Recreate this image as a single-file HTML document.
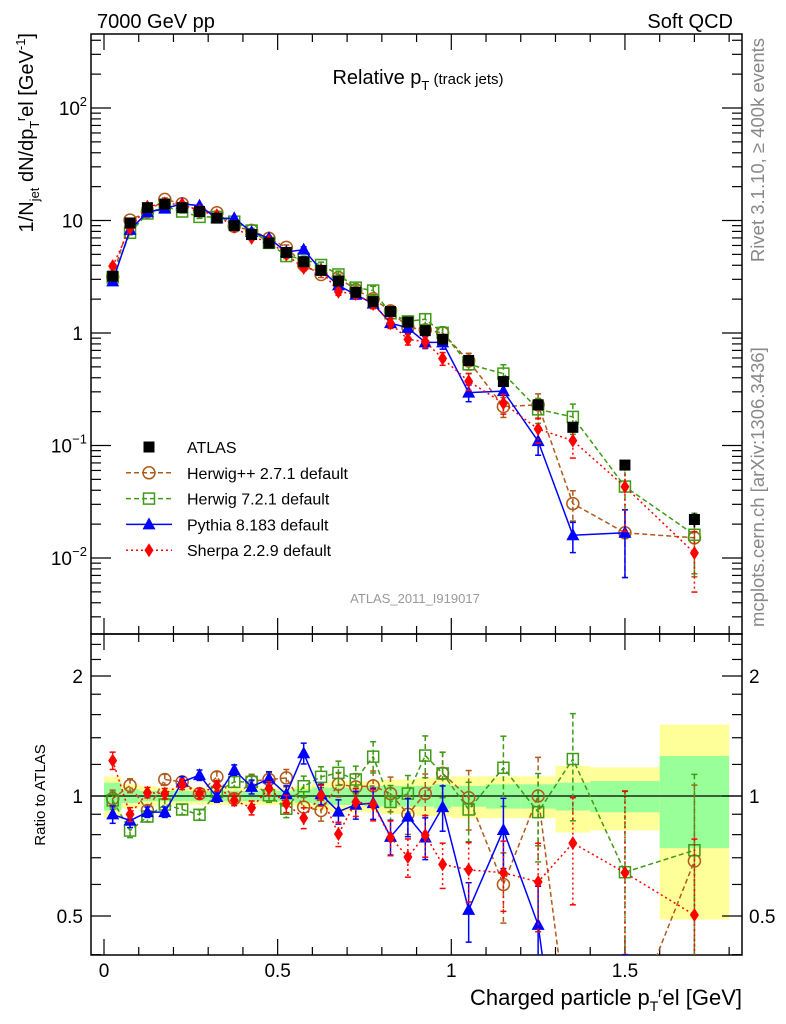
<!DOCTYPE html>
<html><head><meta charset="utf-8"><style>
html,body{margin:0;padding:0;background:#fff;overflow:hidden;width:786px;height:1024px;}
svg{display:block;font-family:"Liberation Sans",sans-serif;}
</style></head><body>
<svg id="chart" width="786" height="1024" viewBox="0 0 786 1024" xmlns="http://www.w3.org/2000/svg">
<g id="bands"></g>
<g id="axes"></g>
<g id="series"></g>
<text x="97" y="28" font-size="20">7000 GeV pp</text>
<text x="733" y="28" font-size="20" text-anchor="end">Soft QCD</text>
<text x="418" y="84" font-size="20" text-anchor="middle">Relative p<tspan font-size="13" dy="6">T</tspan><tspan font-size="15" dy="-6"> (track jets)</tspan></text>
<text x="415" y="603" font-size="13" fill="#999" text-anchor="middle">ATLAS_2011_I919017</text>
<text transform="translate(764,38) rotate(-90)" font-size="18.5" fill="#888" text-anchor="end">Rivet 3.1.10, ≥ 400k events</text>
<text transform="translate(764,627) rotate(-90)" font-size="18.5" fill="#888">mcplots.cern.ch [arXiv:1306.3436]</text>
<text transform="translate(33,33) rotate(-90)" font-size="20" text-anchor="end">1/N<tspan font-size="13" dy="6">jet</tspan><tspan dy="-6"> dN/dp</tspan><tspan font-size="13" dy="6">T</tspan><tspan font-size="13" dy="-14">r</tspan><tspan dy="8">el [GeV</tspan><tspan font-size="13" dy="-8">-1</tspan><tspan dy="8">]</tspan></text>
<text transform="translate(45,795) rotate(-90)" font-size="15" text-anchor="middle">Ratio to ATLAS</text>
<text x="742" y="1005" font-size="22" text-anchor="end">Charged particle p<tspan font-size="14" dy="6">T</tspan><tspan font-size="14" dy="-14">r</tspan><tspan dy="8">el [GeV]</tspan></text>
<g id="legend"></g>
</svg>
<script>
const xVals=[0.025,0.075,0.125,0.175,0.225,0.275,0.325,0.375,0.425,0.475,0.525,0.575,0.625,0.675,0.725,0.775,0.825,0.875,0.925,0.975,1.05,1.15,1.25,1.35,1.5,1.7];
const binEdges=[0,0.05,0.1,0.15,0.2,0.25,0.3,0.35,0.4,0.45,0.5,0.55,0.6,0.65,0.7,0.75,0.8,0.85,0.9,0.95,1.0,1.1,1.2,1.3,1.4,1.6,1.8];
const atlasVals=[3.2,9.5,13,14,13,12,10.5,9,7.5,6.3,5.2,4.3,3.6,2.9,2.3,1.9,1.55,1.25,1.05,0.88,0.57,0.37,0.23,0.145,0.067,0.022];
const atlasTotErr=[0.12,0.07,0.06,0.05,0.05,0.05,0.05,0.05,0.05,0.05,0.05,0.06,0.08,0.09,0.09,0.09,0.10,0.10,0.11,0.11,0.12,0.12,0.12,0.19,0.18,0.51];
const atlasStatErr=[0.08,0.04,0.03,0.03,0.03,0.03,0.03,0.03,0.03,0.03,0.03,0.04,0.05,0.05,0.05,0.06,0.06,0.06,0.06,0.07,0.06,0.07,0.07,0.08,0.09,0.26];
const atlasBarErr=[0.05,0.04,0.03,0.03,0.03,0.03,0.03,0.03,0.03,0.03,0.03,0.04,0.05,0.05,0.05,0.06,0.06,0.06,0.06,0.07,0.06,0.07,0.07,0.08,0.06,0.15];
const herwigppRatio=[0.985,1.062,0.92,1.10,1.085,1.014,1.117,0.985,1.09,1.10,1.11,0.938,0.92,1.07,1.054,1.06,1.014,0.90,1.014,1.14,0.99,0.60,1.0,0.21,0.25,0.687];
const herwig7Ratio=[0.975,0.819,0.888,0.952,0.925,0.897,1.024,1.085,1.085,1.004,0.929,1.058,1.117,1.143,1.10,1.255,0.966,1.014,1.263,1.139,0.925,1.177,0.911,1.238,0.644,0.731];
const pythiaRatio=[0.899,0.868,0.911,0.911,1.085,1.128,0.994,1.162,1.054,1.106,1.01,1.28,1.01,0.914,0.951,0.96,0.79,0.888,0.787,0.938,0.518,0.822,0.475,0.11,0.25,null];
const sherpaRatio=[1.227,0.899,1.02,1.014,1.07,1.014,1.06,0.975,0.934,1.044,0.956,0.881,1.004,0.803,0.966,0.952,0.787,0.703,0.798,0.674,0.653,0.642,0.609,0.762,0.642,0.503];
const mcErr=[0.05,0.04,0.03,0.03,0.03,0.03,0.03,0.03,0.04,0.04,0.05,0.06,0.06,0.07,0.08,0.09,0.10,0.11,0.12,0.13,0.17,0.20,0.25,0.3,0.6,0.55];
const xTickLabels=["0","0.5","1","1.5"];
const xTickVals=[0,0.5,1,1.5];

const NS="http://www.w3.org/2000/svg";
const L=91,R=742,T=34,M=634,B=955;
const X=v=>104+347.3*v;
const YT=v=>333-112.5*Math.log10(v);
const YR=v=>796-398.7*Math.log10(v);
function mk(parent,tag,attrs){const e=document.createElementNS(NS,tag);for(const k in attrs)e.setAttribute(k,attrs[k]);parent.appendChild(e);return e;}
const axes=document.getElementById('axes'),bands=document.getElementById('bands'),ser=document.getElementById('series'),leg=document.getElementById('legend');

const defs=mk(document.getElementById('chart'),'defs',{});
const c1=mk(defs,'clipPath',{id:'ctop'});mk(c1,'rect',{x:L,y:T,width:R-L,height:M-T});
const c2=mk(defs,'clipPath',{id:'cbot'});mk(c2,'rect',{x:L,y:M,width:R-L,height:B-M});

for(let i=0;i<xVals.length;i++){
  const x1=X(binEdges[i]),x2=X(binEdges[i+1]);
  const yb=mk(bands,'rect',{x:x1,y:YR(1+atlasTotErr[i]),width:x2-x1,height:YR(1-atlasTotErr[i])-YR(1+atlasTotErr[i]),fill:'#ffff99'});
  
  
  const gb=mk(bands,'rect',{x:x1,y:YR(1+atlasStatErr[i]),width:x2-x1,height:YR(1-atlasStatErr[i])-YR(1+atlasStatErr[i]),fill:'#99ff99'});
  
  
}
const one=mk(axes,'line',{x1:L,x2:R,y1:YR(1),y2:YR(1),stroke:'#000','stroke-width':1.3});



for(const [y1,y2] of [[T,M],[M,B]]){
  const f=mk(axes,'rect',{x:L,y:y1,width:R-L,height:y2-y1,fill:'none',stroke:'#000','stroke-width':1.5});
  
  
}
for(let k=0;k<=18;k++){
  const v=k/10,x=X(v),maj=(k%5===0),len=maj?16:8;
  for(const [y,d] of [[T,1],[M,-1],[M,1],[B,-1]]){
    mk(axes,'line',{x1:x,x2:x,y1:y,y2:y+d*len,stroke:'#000','stroke-width':1.2});
  }
}
xTickVals.forEach((v,i)=>{const t=mk(axes,'text',{x:X(v),y:977,'font-size':19,'text-anchor':'middle'});t.textContent=xTickLabels[i];

});
for(let e=-3;e<=2;e++){for(let m=1;m<10;m++){const v=m*Math.pow(10,e),y=YT(v);if(y<T||y>M)continue;const len=m===1?20:10;
 mk(axes,'line',{x1:L,x2:L+len,y1:y,y2:y,stroke:'#000','stroke-width':1.2});mk(axes,'line',{x1:R,x2:R-len,y1:y,y2:y,stroke:'#000','stroke-width':1.2});}}
const ytl=[[100,'10','2'],[10,'10',''],[1,'1',''],[0.1,'10','−1'],[0.01,'10','−2']];
ytl.forEach(([v,b,s])=>{const t=mk(axes,'text',{x:s?(s.length>1?72:80):83,y:YT(v)+7,'font-size':19,'text-anchor':'end'});t.textContent=b;
 
 
 if(s){const u=mk(axes,'text',{x:87,y:YT(v)-2,'font-size':13,'text-anchor':'end'});u.textContent=s;}});
[0.4,0.5,0.6,0.7,0.8,0.9,1,1.2,1.4,1.6,1.8,2,2.2,2.4].forEach(v=>{const y=YR(v);if(y<M||y>B)return;const maj=(v===0.5||v===1||v===2);const len=maj?20:10;
 mk(axes,'line',{x1:L,x2:L+len,y1:y,y2:y,stroke:'#000','stroke-width':1.2});mk(axes,'line',{x1:R,x2:R-len,y1:y,y2:y,stroke:'#000','stroke-width':1.2});});
[[2,'2'],[1,'1'],[0.5,'0.5']].forEach(([v,s])=>{
 const a=mk(axes,'text',{x:83,y:YR(v)+7,'font-size':19,'text-anchor':'end'});a.textContent=s;
 
 
 const b=mk(axes,'text',{x:749,y:YR(v)+7,'font-size':19});b.textContent=s;
 
 });

function marker(g,type,x,y,col){
 if(type==='sq')return mk(g,'rect',{x:x-5.5,y:y-5.5,width:11,height:11,fill:'#000'});
 if(type==='circ')return mk(g,'circle',{cx:x,cy:y,r:6,fill:'none',stroke:col,'stroke-width':1.5});
 if(type==='osq')return mk(g,'rect',{x:x-5.5,y:y-5.5,width:11,height:11,fill:'none',stroke:col,'stroke-width':1.5});
 if(type==='tri')return mk(g,'polygon',{points:`${x},${y-7} ${x-6.5},${y+5} ${x+6.5},${y+5}`,fill:col});
 if(type==='dia')return mk(g,'polygon',{points:`${x},${y-7} ${x-4.5},${y} ${x},${y+7} ${x+4.5},${y}`,fill:col});
}
const mcs=[
 {name:'herwigpp',label:'Herwig++ 2.7.1 default',ratio:herwigppRatio,col:'#b05a1a',dash:'5,3',m:'circ'},
 {name:'herwig7',label:'Herwig 7.2.1 default',ratio:herwig7Ratio,col:'#3f9a14',dash:'5,3',m:'osq'},
 {name:'pythia',label:'Pythia 8.183 default',ratio:pythiaRatio,col:'#0000ff',dash:'',m:'tri'},
 {name:'sherpa',label:'Sherpa 2.2.9 default',ratio:sherpaRatio,col:'#ff0000',dash:'2,3',m:'dia'}
];
function drawSeries(s){
 for(const panel of ['top','bot']){
  const g=mk(ser,'g',{'clip-path':panel==='top'?'url(#ctop)':'url(#cbot)'});
  
  
  const Y=panel==='top'?(i=>YT(atlasVals[i]*s.ratio[i])):(i=>YR(s.ratio[i]));
  const Ye=panel==='top'?((i,f)=>YT(Math.max(atlasVals[i]*s.ratio[i]*f,1e-5))):((i,f)=>YR(Math.max(s.ratio[i]*f,1e-3)));
  let d='';
  xVals.forEach((xv,i)=>{if(s.ratio[i]==null)return;d+=(d?'L':'M')+X(xv)+','+Y(i);});
  const p=mk(g,'path',{d,fill:'none',stroke:s.col,'stroke-width':1.5,'stroke-dasharray':s.dash});
  
  
  xVals.forEach((xv,i)=>{if(s.ratio[i]==null)return;
   const x=X(xv),y1=Ye(i,1+mcErr[i]),y2=Ye(i,1-mcErr[i]);
   mk(g,'line',{x1:x,x2:x,y1,y2,stroke:s.col,'stroke-width':1.5,'stroke-dasharray':s.dash});
   mk(g,'line',{x1:x-3,x2:x+3,y1,y2:y1,stroke:s.col,'stroke-width':1.5});
   mk(g,'line',{x1:x-3,x2:x+3,y1:y2,y2,stroke:s.col,'stroke-width':1.5});
   const mm=marker(g,s.m,x,Y(i),s.col);
   
   
  });
 }
}
mcs.forEach(drawSeries);
const ga=mk(ser,'g',{'clip-path':'url(#ctop)'});


xVals.forEach((xv,i)=>{const x=X(xv),y=YT(atlasVals[i]);
 mk(ga,'line',{x1:x,x2:x,y1:YT(atlasVals[i]*(1+atlasBarErr[i])),y2:YT(atlasVals[i]*(1-atlasBarErr[i])),stroke:'#000','stroke-width':1.5});
 const m=marker(ga,'sq',x,y,'#000');
 
 });

const rows=[{label:'ATLAS',m:'sq',col:'#000',dash:null},...mcs];
rows.forEach((r,k)=>{const y=447+k*25.8;
 const g=mk(leg,'g',{});
 
 
 if(r.dash!==null)mk(g,'line',{x1:126,x2:172,y1:y,y2:y,stroke:r.col,'stroke-width':1.5,'stroke-dasharray':r.dash});
 marker(g,r.m,149,y,r.col);
 const t=mk(g,'text',{x:187,y:y+6,'font-size':16});t.textContent=r.label;});
</script>
</body></html>
